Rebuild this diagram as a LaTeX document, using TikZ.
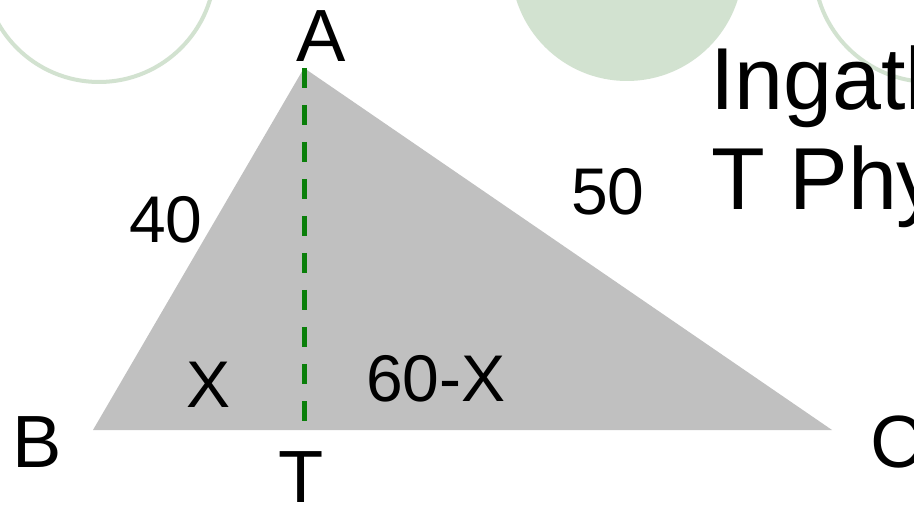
\documentclass[tikz,border=0pt]{standalone}
\usepackage{fontspec}
\setmainfont{Liberation Sans}
\definecolor{ringgreen}{HTML}{D2E2D0}
\definecolor{trigray}{HTML}{C0C0C0}
\definecolor{altgreen}{HTML}{0A7F0A}
\begin{document}
\begin{tikzpicture}[x=1pt,y=-1pt,
  lbl/.style={inner sep=0pt,anchor=base,font=\fontsize{74}{80}\selectfont},
  sidelbl/.style={inner sep=0pt,anchor=base,font=\fontsize{66}{72}\selectfont},
  titlelbl/.style={inner sep=0pt,anchor=base west,font=\fontsize{88}{100}\selectfont},
  ring/.style={draw=ringgreen,line width=4pt}]
\useasboundingbox (0,0) rectangle (914,505);
\clip (0,0) rectangle (914,505);
\fill[white] (0,0) rectangle (914,505);
% decorative circles
\draw[ring] (99,-34) circle (116);
\fill[ringgreen] (627,-35) circle (116);
\draw[ring] (930,-34) circle (116);
% triangle
\coordinate (A) at (304,68);
\coordinate (B) at (93,430);
\coordinate (C) at (832,430);
\coordinate (T) at (304,425);
\fill[trigray] (A) -- (B) -- (C) -- cycle;
\draw[altgreen,line width=5pt,dash pattern=on 20pt off 17pt] (A) -- (T);
% labels
\node[lbl] (lA) at (321,62) {A};
\node[lbl] (lB) at (37,467) {B};
\node[lbl,anchor=base west] (lC) at (870,467) {C};
\node[lbl] (lT) at (301,502) {T};
\node[sidelbl] (lX) at (209,407) {X};
\node[sidelbl] (l60) at (436,402) {60-X};
\node[sidelbl] (l40) at (166,243) {40};
\node[sidelbl] (l50) at (608,215) {50};
\node[titlelbl] (t1) at (710,110) {Ingatlah};
\node[titlelbl] (t2) at (711,210) {T Phytagoras};
\end{tikzpicture}
\end{document}
